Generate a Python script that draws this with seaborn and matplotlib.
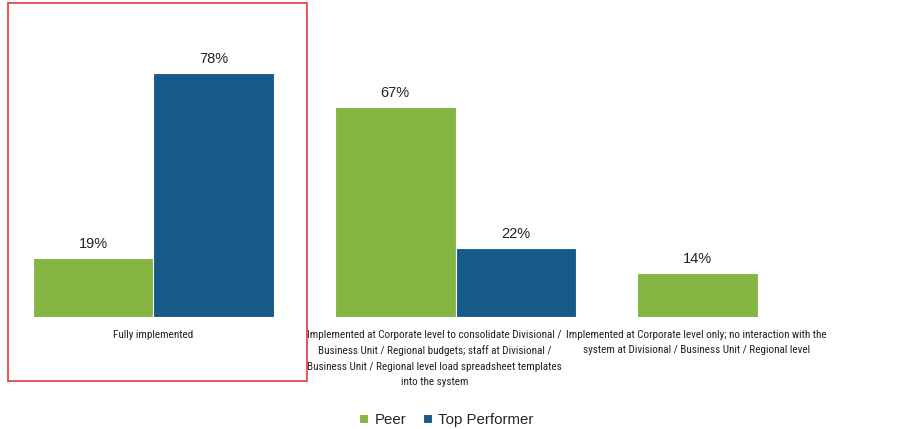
import pandas as pd
import matplotlib.pyplot as plt
import matplotlib.transforms as mtransforms
import seaborn as sns
from matplotlib import font_manager
from matplotlib.patches import Rectangle

# === DATA ===
categories = [
    "Fully implemented",
    "Implemented at Corporate level to consolidate Divisional /\nBusiness Unit / Regional budgets; staff at Divisional /\nBusiness Unit / Regional level load spreadsheet templates\ninto the system",
    "Implemented at Corporate level only; no interaction with the\nsystem at Divisional / Business Unit / Regional level",
]
peer = [19, 67, 14]
top_performer = [78, 22, 0]
series = ["Peer", "Top Performer"]
colors = ["#84b441", "#165a89"]
# horizontal shift of each category label in the source (points)
label_shift = [0, -15, -44]

df = pd.DataFrame({
    "category": categories * 2,
    "value": peer + top_performer,
    "group": [series[0]] * 3 + [series[1]] * 3,
})

# === FONT: look for a narrow family, the labels in the source are Arial Narrow ===
names = {f.name for f in font_manager.fontManager.ttflist}
narrow = None
for cand in ["Liberation Sans Narrow", "Roboto Condensed", "Open Sans Condensed",
             "DejaVu Sans Condensed", "Noto Sans Condensed"]:
    if cand in names:
        narrow = cand
        break
if narrow:
    label_font = dict(family=[narrow, "DejaVu Sans"], size=8.0)
else:
    label_font = dict(family=["Liberation Sans", "DejaVu Sans"], size=7.3)

# === PLOT ===
sns.set_style("white")
plt.rcParams["font.family"] = ["Liberation Sans", "DejaVu Sans"]

fig = plt.figure(figsize=(9.05, 4.29), dpi=100)
ax = fig.add_axes([0, 0.261, 1, 0.7296])

sns.barplot(data=df, x="category", y="value", hue="group", palette=colors,
            width=0.8, edgecolor="white", linewidth=0.8, saturation=1, ax=ax)

for cont in ax.containers:
    labels = [f"{v:.0f}%" if v > 0 else "" for v in cont.datavalues]
    ax.bar_label(cont, labels=labels, padding=5, fontsize=10.5, color="#222222")

ax.set_xlim(-0.508, 2.488)
ax.set_ylim(0, 100)
ax.set_xlabel("")
ax.set_ylabel("")
ax.set_yticks([])
ax.tick_params(axis="x", length=0, pad=9, colors="#222222")
for lbl, dx in zip(ax.get_xticklabels(), label_shift):
    lbl.set_fontfamily(label_font["family"])
    lbl.set_fontsize(label_font["size"])
    lbl.set_linespacing(1.68)
    lbl.set_verticalalignment("top")
    lbl.set_transform(lbl.get_transform() +
                      mtransforms.ScaledTranslation(dx / 72, 0, fig.dpi_scale_trans))
sns.despine(ax=ax, left=True, bottom=True, top=True, right=True)

ax.legend(loc="lower center", bbox_to_anchor=(0.493, -0.026), bbox_transform=fig.transFigure,
          ncol=2, frameon=False, handlelength=0.6, handleheight=0.6, handletextpad=0.4,
          columnspacing=1.1, fontsize=10.8)

# highlight box around first group
fig.patches.append(Rectangle((8 / 905, 1 - 381 / 429), 299 / 905, 378 / 429,
                             transform=fig.transFigure, fill=False,
                             edgecolor="#e83a3a", linewidth=1.2))

plt.savefig("out.png", dpi=100)
